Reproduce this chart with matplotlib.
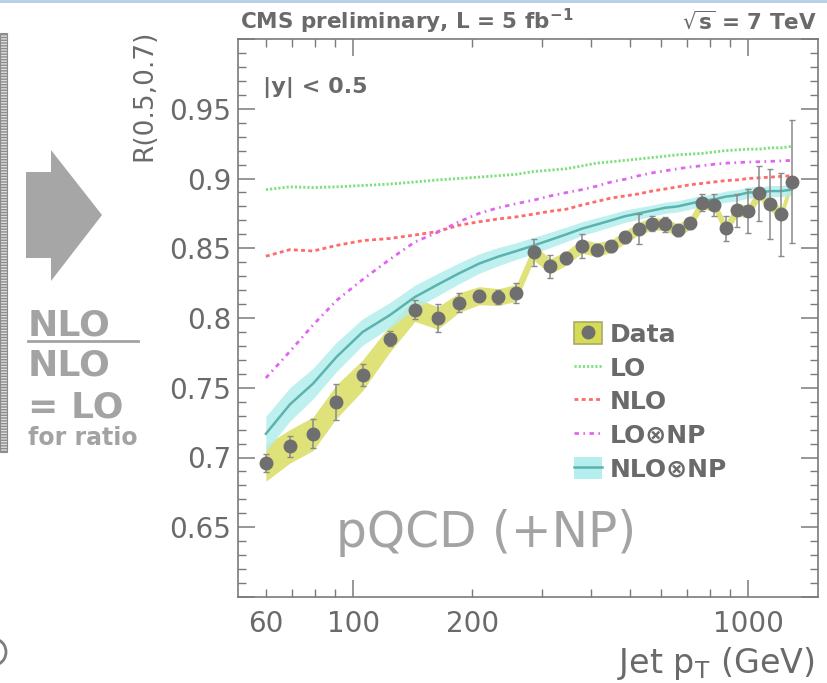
import numpy as np
import matplotlib
matplotlib.use("Agg")
import matplotlib.pyplot as plt
from matplotlib.patches import Patch, Polygon, Rectangle, Arc
from matplotlib.lines import Line2D
from matplotlib.ticker import FixedLocator, FuncFormatter

# ---------------- data ----------------
pt_centers = [60, 69, 79, 90.5, 105.5, 123.5, 143, 163.5, 185, 208, 232.5, 258.5,
              286, 315, 346, 378.5, 412.5, 449, 487.5, 527.5, 570, 615, 662, 711.5,
              763.5, 818, 875.5, 936, 999.5, 1066.5, 1136.5, 1210, 1287.5]
data_r = [0.696, 0.708, 0.717, 0.740, 0.759, 0.785, 0.806, 0.800, 0.811, 0.816, 0.815,
          0.818, 0.847, 0.837, 0.843, 0.8515, 0.849, 0.8515, 0.858, 0.864, 0.8676,
          0.8671, 0.863, 0.8678, 0.8827, 0.881, 0.8642, 0.8772, 0.8767, 0.8894,
          0.8815, 0.8743, 0.8978]
data_stat = [0.0067, 0.0077, 0.0105, 0.0128, 0.008, 0.0054, 0.007, 0.010, 0.0066,
             0.004, 0.0048, 0.0074, 0.0098, 0.0084, 0.004, 0.0084, 0.004, 0.004,
             0.004, 0.0108, 0.0054, 0.0054, 0.004, 0.004, 0.006, 0.0078, 0.0092,
             0.012, 0.0156, 0.0198, 0.025, 0.0297, 0.0443]
data_sys = [0.013, 0.012, 0.012, 0.012, 0.011, 0.0095, 0.0085, 0.008, 0.007, 0.0065,
            0.006, 0.006, 0.0055, 0.0055, 0.005, 0.005, 0.005, 0.0045, 0.0045,
            0.0045, 0.0045, 0.0045, 0.0045, 0.0045, 0.0045, 0.0045, 0.0045, 0.0045,
            0.0045, 0.0045, 0.0045, 0.0045, 0.0045]
lo_r = [0.892, 0.894, 0.8935, 0.894, 0.895, 0.896, 0.8975, 0.899, 0.900, 0.901, 0.902,
        0.903, 0.905, 0.906, 0.907, 0.909, 0.911, 0.912, 0.913, 0.914, 0.915, 0.916,
        0.917, 0.9175, 0.918, 0.919, 0.920, 0.9205, 0.921, 0.921, 0.922, 0.922, 0.923]
nlo_r = [0.8443, 0.849, 0.848, 0.852, 0.8555, 0.857, 0.8595, 0.862, 0.8665, 0.869,
         0.871, 0.8725, 0.8745, 0.8765, 0.878, 0.881, 0.8835, 0.886, 0.8875, 0.889,
         0.891, 0.8925, 0.894, 0.8955, 0.8965, 0.8975, 0.8985, 0.899, 0.900, 0.9005,
         0.901, 0.9015, 0.902]
lonp_r = [0.757, 0.776, 0.795, 0.8125, 0.8276, 0.842, 0.8545, 0.8615, 0.869, 0.875,
          0.879, 0.882, 0.8845, 0.8875, 0.8899, 0.892, 0.8945, 0.8975, 0.8995, 0.902,
          0.904, 0.9055, 0.907, 0.9082, 0.9092, 0.9102, 0.911, 0.9114, 0.9118, 0.912,
          0.9123, 0.9126, 0.913]
nlonp_r = [0.717, 0.738, 0.753, 0.772, 0.790, 0.802, 0.815, 0.824, 0.832, 0.839,
           0.844, 0.848, 0.852, 0.856, 0.860, 0.864, 0.867, 0.870, 0.873, 0.875,
           0.877, 0.879, 0.880, 0.882, 0.884, 0.885, 0.887, 0.888, 0.890, 0.890,
           0.891, 0.891, 0.892]
nlonp_unc = [0.0125, 0.012, 0.011, 0.0105, 0.0095, 0.009, 0.0085, 0.008, 0.0075,
             0.007, 0.0065, 0.006, 0.0058, 0.0055, 0.0052, 0.005, 0.0048, 0.0046,
             0.0044, 0.0042, 0.004, 0.004, 0.004, 0.004, 0.004, 0.004, 0.004, 0.004,
             0.004, 0.004, 0.004, 0.004, 0.004]
x_tick_values = [60, 100, 200, 1000]
x_tick_labels = ["60", "100", "200", "1000"]
y_tick_values = [0.65, 0.7, 0.75, 0.8, 0.85, 0.9, 0.95]
y_tick_labels = ["0.65", "0.7", "0.75", "0.8", "0.85", "0.9", "0.95"]
legend_labels = ["Data", "LO", "NLO", "LO\u2297NP", "NLO\u2297NP"]

# ---------------- style ----------------
W, H = 827, 683
TXT = "#6a6a6a"
SLIDE = "#a3a3a3"
YEL = "#d6db56"
CYAN = "#b4eeee"
TEAL = "#5bb3ad"
GREEN = "#7ee07e"
RED = "#ff6a6a"
MAG = "#e066f0"
MARK = "#6f6f6f"

def fx(px):
    return px / W

def fy(py):
    return 1 - py / H

fig = plt.figure(figsize=(W / 100, H / 100), dpi=100)
ax = fig.add_axes([fx(238), fy(597), (818 - 238) / W, (597 - 39) / H])

x = np.array(pt_centers)
d = np.array(data_r)
sy = np.array(data_sys)
tn = np.array(nlonp_r)
tu = np.array(nlonp_unc)

ax.fill_between(x, d - sy, d + sy, color=YEL, alpha=0.8, lw=0, zorder=2)
ax.fill_between(x, tn - tu, tn + tu, color=CYAN, alpha=0.85, lw=0, zorder=3)
ax.plot(x, tn, color=TEAL, lw=1.8, zorder=4)
ax.plot(x, lo_r, color=GREEN, lw=2.0, ls=(0, (0.8, 0.7)), zorder=4)
ax.plot(x, nlo_r, color=RED, lw=2.0, ls=(0, (1.4, 1.2)), zorder=4)
ax.plot(x, lonp_r, color=MAG, lw=2.0, ls=(0, (1.6, 1.6, 0.6, 1.6)), zorder=4)
ax.errorbar(x, d, yerr=data_stat, fmt="o", ms=9, mfc=MARK, mec=MARK,
            ecolor="#8a8a8a", elinewidth=1.1, capsize=2.5, capthick=1.0, zorder=6)

ax.set_xscale("log")
ax.set_xlim(51, 1500)
ax.set_ylim(0.6, 1.0)

label_map = dict(zip(x_tick_values, x_tick_labels))
ax.xaxis.set_major_locator(FixedLocator([100, 1000]))
minors = [v * m for v in (10, 100, 1000) for m in range(2, 10)]
ax.xaxis.set_minor_locator(FixedLocator([m for m in minors if 51 <= m <= 1500]))
fmt = FuncFormatter(lambda v, p: label_map.get(int(round(v)), ""))
ax.xaxis.set_major_formatter(fmt)
ax.xaxis.set_minor_formatter(fmt)

ymaj = [0.6, 0.65, 0.7, 0.75, 0.8, 0.85, 0.9, 0.95, 1.0]
ylab_map = dict(zip([round(v, 2) for v in y_tick_values], y_tick_labels))
ax.yaxis.set_major_locator(FixedLocator(ymaj))
ax.yaxis.set_minor_locator(FixedLocator(list(np.round(np.arange(0.6, 1.0001, 0.01), 2))))
ax.yaxis.set_major_formatter(FuncFormatter(lambda v, p: ylab_map.get(round(v, 2), "")))

ax.tick_params(which="both", direction="in", top=True, right=True, colors="#7a7a7a",
               labelcolor=TXT, labelsize=20)
ax.tick_params(which="major", length=12, width=1.1)
ax.tick_params(which="minor", length=6, width=1.0)
ax.tick_params(axis="x", which="both", pad=9)
ax.tick_params(axis="y", which="both", pad=5)
for s in ax.spines.values():
    s.set_color("#7a7a7a")
    s.set_linewidth(1.2)

ax.set_xlabel("Jet p$_\\mathregular{T}$ (GeV)", fontsize=24, color=TXT, ha="right", va="center")
ax.xaxis.set_label_coords((815 - 238) / 580, (597 - 663) / 558)
ax.set_ylabel("R(0.5,0.7)", fontsize=19, color=TXT, ha="center", va="center")
ax.yaxis.set_label_coords((144 - 238) / 580, (597 - 95) / 558)

# header texts
fig.text(fx(240), fy(29), "CMS preliminary, L = 5 fb$^{\\mathbf{-1}}$", fontsize=15.5,
         fontweight="bold", color=TXT, ha="left", va="baseline")
fig.text(fx(817), fy(29), "$\\sqrt{\\mathbf{s}}$ = 7 TeV", fontsize=15.5,
         fontweight="bold", color=TXT, ha="right", va="baseline")
ax.text((263 - 238) / 580, (597 - 87) / 558, "|y| < 0.5", transform=ax.transAxes,
        fontsize=16, fontweight="bold", color=TXT, ha="left", va="center")

# legend
h_data = (Patch(facecolor=YEL, edgecolor="#a9a96a", lw=1.2),
          Line2D([], [], marker="o", ls="none", ms=9, mfc=MARK, mec=MARK))
h_lo = Line2D([], [], color=GREEN, lw=2.0, ls=(0, (0.8, 0.7)))
h_nlo = Line2D([], [], color=RED, lw=2.0, ls=(0, (1.4, 1.2)))
h_lonp = Line2D([], [], color=MAG, lw=2.0, ls=(0, (1.6, 1.6, 0.6, 1.6)))
h_nlonp = (Patch(facecolor=CYAN, edgecolor="none"), Line2D([], [], color=TEAL, lw=1.8))
leg = ax.legend([h_data, h_lo, h_nlo, h_lonp, h_nlonp], legend_labels,
                loc="upper left", bbox_to_anchor=(fx(574), fy(322)),
                bbox_transform=fig.transFigure, frameon=False, borderpad=0,
                borderaxespad=0, prop={"size": 18, "weight": "bold"},
                handlelength=1.12, handleheight=1.0, handletextpad=0.3,
                labelspacing=0.36)
for t in leg.get_texts():
    t.set_color(TXT)

# big slide text inside plot
fig.text(fx(336), fy(547), "pQCD (+NP)", fontsize=35, color=SLIDE, ha="left", va="baseline")

# ---------------- slide decorations on the left ----------------
fig.add_artist(Line2D([0, 1], [fy(1), fy(1)], transform=fig.transFigure,
                      color="#b6cde3", lw=2))
arrow = Polygon([(fx(26), fy(172)), (fx(51), fy(172)), (fx(51), fy(150)),
                 (fx(102), fy(215)), (fx(51), fy(281)), (fx(51), fy(258)),
                 (fx(26), fy(258))], closed=True, transform=fig.transFigure,
                facecolor="#a6a6a6", edgecolor="none")
fig.add_artist(arrow)
strip = Rectangle((0, fy(452)), fx(7), (452 - 33) / H, transform=fig.transFigure,
                  facecolor="#dedede", edgecolor="#8c8c8c", lw=0.8, hatch="------")
fig.add_artist(strip)
fig.add_artist(Arc((fx(-6), fy(652)), 24 / W, 26 / H, theta1=-70, theta2=70,
                   transform=fig.transFigure, color="#7c7c7c", lw=2))

fig.text(fx(28), fy(336), "NLO", fontsize=26, fontweight="heavy", color=SLIDE,
         ha="left", va="baseline")
fig.add_artist(Line2D([fx(28), fx(138)], [fy(341), fy(341)], transform=fig.transFigure,
                      color=SLIDE, lw=2))
fig.text(fx(28), fy(376), "NLO", fontsize=26, fontweight="heavy", color=SLIDE,
         ha="left", va="baseline")
fig.text(fx(28), fy(417), "= LO", fontsize=26, fontweight="heavy", color=SLIDE,
         ha="left", va="baseline")
fig.text(fx(28), fy(445), "for ratio", fontsize=17, fontweight="heavy", color=SLIDE,
         ha="left", va="baseline")

fig.savefig("out.png", dpi=100)
